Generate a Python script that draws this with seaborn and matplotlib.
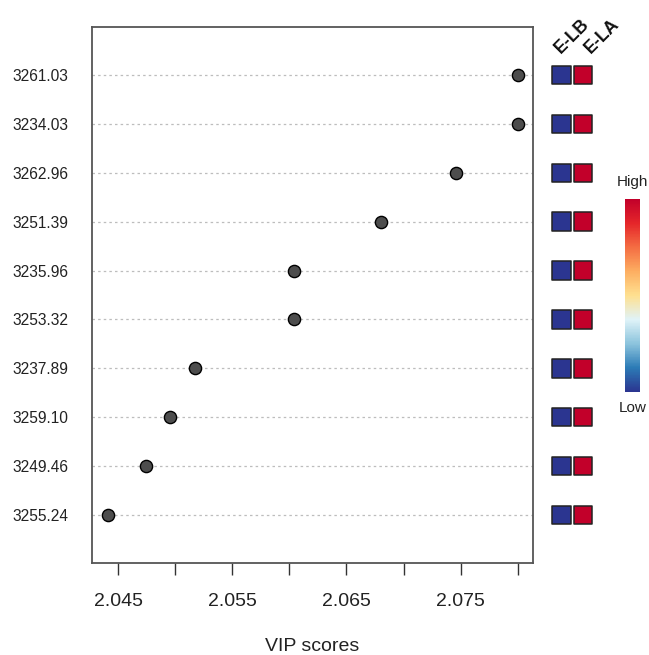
import numpy as np
import pandas as pd
import seaborn as sns
import matplotlib
matplotlib.use("Agg")
import matplotlib.pyplot as plt
from matplotlib.colors import LinearSegmentedColormap, Normalize
from matplotlib.cm import ScalarMappable
from matplotlib.transforms import blended_transform_factory

# Features (m/z), ordered top to bottom
features = ["3261.03", "3234.03", "3262.96", "3251.39", "3235.96",
            "3253.32", "3237.89", "3259.10", "3249.46", "3255.24"]
vip_scores = [2.0800, 2.0800, 2.0746, 2.0680, 2.0604,
              2.0604, 2.0517, 2.04955, 2.04745, 2.04412]

# Relative group levels (0 = low, 1 = high)
groups = ["E-LB", "E-LA"]
level_elb = [0.0, 0.0, 0.0, 0.0, 0.0, 0.0, 0.0, 0.0, 0.0, 0.0]
level_ela = [1.0, 1.0, 1.0, 1.0, 1.0, 1.0, 1.0, 1.0, 1.0, 1.0]

x_ticks = [2.045, 2.050, 2.055, 2.060, 2.065, 2.070, 2.075, 2.080]
x_ticklabels = ["2.045", "", "2.055", "", "2.065", "", "2.075", ""]

sns.set_theme(style="white")
plt.rcParams["font.family"] = ["Liberation Sans", "DejaVu Sans"]

W, H = 649, 655
fig = plt.figure(figsize=(W / 100, H / 100), dpi=100)


def px_axes(x0, y0, x1, y1):
    return fig.add_axes([x0 / W, 1 - y1 / H, (x1 - x0) / W, (y1 - y0) / H])


cmap = LinearSegmentedColormap.from_list(
    "vip_heat",
    ["#2B3590", "#2C7BB6", "#8CC4DD", "#E0F3F8", "#FEE090",
     "#FDAE61", "#F46D43", "#E5262A", "#C2002A"])

# ---- dot plot of VIP scores ----
ax = px_axes(92, 27, 533, 563)
vip_df = pd.DataFrame({"feature": features, "vip": vip_scores})
for i in range(len(features)):
    ax.axhline(i, color="#BDBDBD", lw=0.9, ls=(0, (2, 2.5)), zorder=0)
sns.stripplot(data=vip_df, x="vip", y="feature", order=features, jitter=False,
              color="#4D4D4D", edgecolor="black", linewidth=1, size=8.8,
              ax=ax, zorder=3)
ax.set_xlim(2.04272, 2.08134)
ax.set_ylim(len(features) - 1 + 0.98, -0.98)
ax.set_xticks(x_ticks)
ax.set_xticklabels(x_ticklabels, fontsize=14, color="#222222")
ax.tick_params(axis="x", bottom=True, length=8.5, width=1, color="#333333", pad=13)
ax.tick_params(axis="y", left=False, length=0, pad=17, labelsize=11.2, labelcolor="#222222")
ax.set_ylabel("")
ax.set_xlabel("VIP scores", fontsize=14, color="#222222", labelpad=20)
for sp in ax.spines.values():
    sp.set_visible(True)
    sp.set_color("#555555")
    sp.set_linewidth(1.3)

# ---- group level squares ----
axh = px_axes(545, 27, 600, 563)
heat_df = pd.DataFrame({
    "feature": features * 2,
    "group": [groups[0]] * len(features) + [groups[1]] * len(features),
    "level": level_elb + level_ela,
})
heat_df["col"] = heat_df["group"].map({g: i for i, g in enumerate(groups)})
heat_df["row"] = heat_df["feature"].map({f: i for i, f in enumerate(features)})
sns.scatterplot(data=heat_df, x="col", y="row", hue="level", palette=cmap,
                hue_norm=(0, 1), marker="s", s=175, edgecolor="#222222",
                linewidth=1.1, legend=False, ax=axh)
axh.set_xlim(-0.767, 1.79)
axh.set_ylim(len(features) - 1 + 0.98, -0.98)
axh.axis("off")
tr = blended_transform_factory(axh.transData, fig.transFigure)
label_shift = [0.12, 0.52]
for i, g in enumerate(groups):
    fig.text(i + label_shift[i], 1 - 57 / H, g, transform=tr, rotation=45,
             rotation_mode="anchor", ha="left", va="bottom",
             fontsize=12.7, fontweight="bold", color="#111111")

# ---- colour key ----
cax = px_axes(625, 199, 640, 392)
cb = fig.colorbar(ScalarMappable(norm=Normalize(0, 1), cmap=cmap), cax=cax)
cb.set_ticks([])
cb.outline.set_visible(False)
fig.text(632.5 / W, 1 - 182 / H, "High", ha="center", va="center", fontsize=11, color="#222222")
fig.text(632.5 / W, 1 - 408 / H, "Low", ha="center", va="center", fontsize=11, color="#222222")

fig.savefig("out.png", dpi=100)
